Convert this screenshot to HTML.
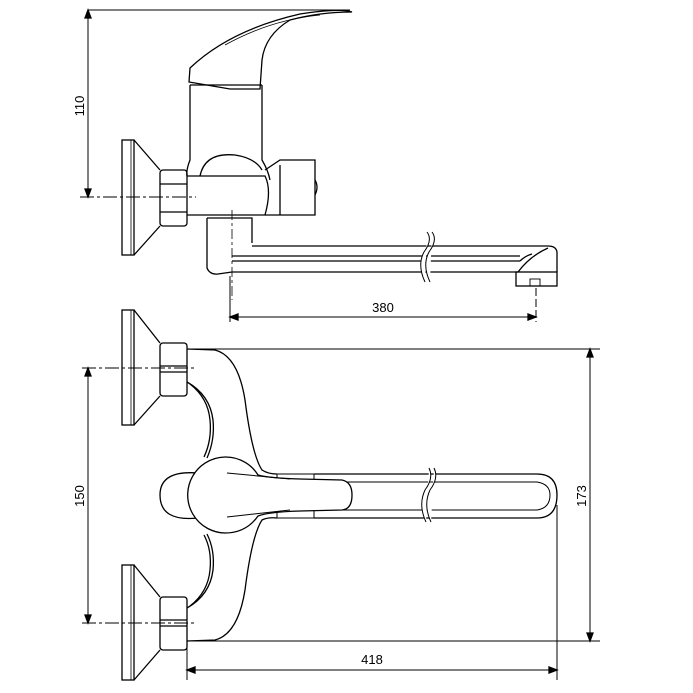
<!DOCTYPE html>
<html><head><style>html,body{margin:0;padding:0;background:#fff}svg{display:block}</style></head>
<body>
<svg width="693" height="693" viewBox="0 0 693 693" xmlns="http://www.w3.org/2000/svg" fill="none" stroke="#000" stroke-width="1.3" font-family="Liberation Sans, sans-serif">
<!-- TOP VIEW -->
<line x1="88" y1="10" x2="350" y2="10" stroke-width="1"/>
<line x1="88" y1="10" x2="88" y2="197" stroke-width="1"/>
<path d="M85 18 L88 10 L91 18 Z M85 189 L88 197 L91 189 Z" fill="#000"/>
<line x1="80" y1="197" x2="196" y2="197" stroke-width="1" stroke-dasharray="14 3 3 3"/>
<text x="84" y="106" font-size="13" fill="#000" stroke="none" transform="rotate(-90 84 106)" text-anchor="middle">110</text>
<rect x="122" y="140" width="12" height="115"/>
<line x1="131" y1="140" x2="131" y2="255" stroke-width="0.8"/>
<path d="M134 140 L160 170 M134 255 L160 226"/>
<rect x="160" y="170" width="27" height="56" rx="3"/>
<line x1="160" y1="184" x2="187" y2="184"/><line x1="160" y1="212" x2="187" y2="212"/>
<path d="M187 176 L265 176 Q272 190 265 215 L187 215"/>
<path d="M190 85 L190 160 Q186 170 187 176 M262 85 L262 160 Q268 170 270 180"/>
<path d="M190 85 L262 85"/>
<path d="M200 176 Q205 152 235 155 Q255 158 262 170"/>
<path d="M189 82 L190 68 Q230 30 300 14 Q340 8 352 12 Q320 12 290 20 Q265 35 262 60 L260 89 L230 89 Z"/>
<path d="M225 45 Q270 20 320 15" stroke-width="0.8"/>
<path d="M265 170 L280 160 L315 160 L315 215 L265 215"/>
<line x1="280" y1="165" x2="280" y2="215"/>
<path d="M315 180 Q319 187 315 195"/>
<path d="M207 218 L252 218 L252 243 M207 218 L207 268 Q210 275 218 274 L232 272"/>
<line x1="232" y1="210" x2="232" y2="300" stroke-width="0.8" stroke-dasharray="10 3 3 3"/>
<path d="M232 272 L518 272 M232 261 L520 261 M232 256 L520 256 M252 246 L548 246 Q556 246 557 252 L557 272"/>
<path d="M518 272 Q530 256 548 248 M520 261 Q525 256 532 254"/>
<rect x="516" y="272" width="41" height="14"/>
<rect x="530" y="279" width="10" height="7" stroke-width="0.9"/>
<path d="M427 232 Q433 240 424 252 Q417 265 425 282 M432 232 Q438 240 429 252 Q422 265 430 282" fill="#fff" stroke="#000" stroke-width="1"/>
<line x1="230" y1="276" x2="230" y2="322" stroke-width="1"/>
<line x1="536" y1="288" x2="536" y2="322" stroke-width="1" stroke-dasharray="8 3"/>
<line x1="230" y1="317" x2="536" y2="317" stroke-width="1"/>
<path d="M238 314 L230 317 L238 320 Z M528 314 L536 317 L528 320 Z" fill="#000"/>
<text x="383" y="312" font-size="13" fill="#000" stroke="none" text-anchor="middle">380</text>

<!-- BOTTOM VIEW -->
<rect x="122" y="310" width="12" height="115"/>
<line x1="131" y1="310" x2="131" y2="425" stroke-width="0.8"/>
<path d="M134 310 L160 343 M134 425 L160 396"/>
<rect x="160" y="343" width="27" height="53" rx="3"/>
<line x1="160" y1="366" x2="187" y2="366"/><line x1="160" y1="372" x2="187" y2="372"/>
<rect x="122" y="565" width="12" height="115"/>
<line x1="131" y1="565" x2="131" y2="680" stroke-width="0.8"/>
<path d="M134 565 L160 597 M134 680 L160 650"/>
<rect x="160" y="597" width="27" height="53" rx="3"/>
<line x1="160" y1="620" x2="187" y2="620"/><line x1="160" y1="626" x2="187" y2="626"/>
<line x1="82" y1="368" x2="196" y2="368" stroke-width="1" stroke-dasharray="14 3 3 3"/>
<line x1="82" y1="623" x2="196" y2="623" stroke-width="1" stroke-dasharray="14 3 3 3"/>
<line x1="88" y1="368" x2="88" y2="623" stroke-width="1"/>
<path d="M85 376 L88 368 L91 376 Z M85 615 L88 623 L91 615 Z" fill="#000"/>
<text x="84" y="496" font-size="13" fill="#000" stroke="none" transform="rotate(-90 84 496)" text-anchor="middle">150</text>
<path d="M187 349 L215 350 Q238 356 245 400 Q252 455 262 470 Q268 474 277 474"/>
<path d="M187 641 L215 640 Q238 634 245 590 Q252 535 262 520 Q268 517 277 518"/>
<path d="M187 382 Q210 395 213 420 Q215 440 207 458 M190 384 Q208 398 210 420 Q212 440 204 457"/>
<path d="M187 608 Q210 595 213 570 Q215 550 207 534 M190 606 Q208 592 210 570 Q212 550 204 535"/>
<line x1="187" y1="349" x2="600" y2="349" stroke-width="1"/>
<line x1="187" y1="641" x2="600" y2="641" stroke-width="1"/>
<path d="M198 473 Q160 470 160 495 Q160 522 198 518"/>
<!-- spout (drawn before handle) -->
<path d="M277 474 L314 474 L314 518 L277 518 Z" stroke-width="1"/>
<path d="M314 474 L537 474 Q557 474 557 495 Q557 518 537 518 L314 518"/>
<path d="M314 482 L537 482 Q550 484 550 495 Q550 508 537 510 L314 510" stroke-width="1"/>
<path d="M429 468 Q434 478 425 490 Q418 505 426 522 M434 468 Q439 478 430 490 Q423 505 431 522" fill="#fff" stroke="#000" stroke-width="1"/>
<!-- handle -->
<path d="M225 533 A38 38 0 1 1 258 475 Q268 478 300 479 L342 480 Q352 482 352 495 Q352 509 342 510 L300 511 Q268 512 258 516 Q246 533 225 533 Z" fill="#fff"/>
<path d="M227 473 L290 479 M227 517 L290 510" stroke-width="1"/>
<line x1="590" y1="349" x2="590" y2="641" stroke-width="1"/>
<path d="M587 357 L590 349 L593 357 Z M587 633 L590 641 L593 633 Z" fill="#000"/>
<text x="586" y="496" font-size="13" fill="#000" stroke="none" transform="rotate(-90 586 496)" text-anchor="middle">173</text>
<line x1="187" y1="641" x2="187" y2="680" stroke-width="1"/>
<line x1="557" y1="505" x2="557" y2="680" stroke-width="1"/>
<line x1="187" y1="670" x2="557" y2="670" stroke-width="1"/>
<path d="M195 667 L187 670 L195 673 Z M549 667 L557 670 L549 673 Z" fill="#000"/>
<text x="372" y="664" font-size="13" fill="#000" stroke="none" text-anchor="middle">418</text>
</svg>
</body></html>
